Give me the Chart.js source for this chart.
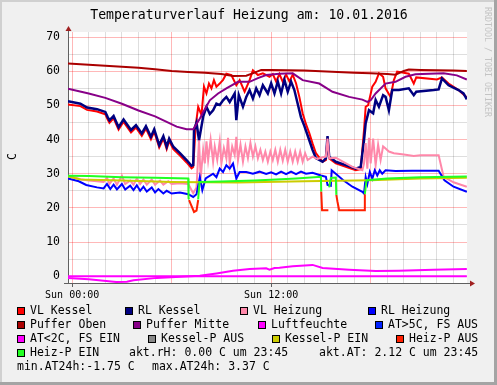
<!DOCTYPE html>
<html>
<head>
<meta charset="utf-8">
<script src="https://cdn.jsdelivr.net/npm/chart.js@4/dist/chart.umd.min.js"></script>
<style>
html, body { margin: 0; padding: 0; background: #f0f0f0; }
#wrap { width: 497px; height: 385px; }
</style>
</head>
<body>
<div id="wrap"><canvas id="chart" width="497" height="385"></canvas></div>
<script>
// [hours since Sun 00:00, temperature in C]
const vlKessel = [[-0.25,50.3],[0.5,49.8],[0.9,48.7],[1.5,48.2],[2.0,47.4],[2.15,45.8],[2.25,44.9],[2.5,46.2],[2.8,42.9],[3.1,45.2],[3.55,42.1],[3.85,43.5],[4.2,41.1],[4.45,43.2],[4.75,40.1],[4.95,42.3],[5.25,37.7],[5.5,40.3],[5.7,37.2],[5.85,39.6],[6.1,37.2],[6.5,35.3],[6.9,33.3],[7.2,31.6],[7.3,32.0],[7.45,44],[7.6,49.6],[7.8,47.2],[7.95,55.5],[8.1,53.5],[8.25,56.4],[8.4,55],[8.55,57.4],[8.7,55.5],[8.9,56.4],[9.1,57.5],[9.3,59.3],[9.6,58.9],[9.9,55.9],[10.1,57.4],[10.4,54.0],[10.7,57.4],[10.9,60.3],[11.2,58.9],[11.5,59.4],[11.9,58.4],[12.1,59.2],[12.3,57],[12.5,59.2],[12.7,56.9],[12.9,59],[13.1,57],[13.3,59],[13.5,56.5],[13.7,52.5],[13.9,47.7],[14.1,44.5],[14.3,41.9],[14.5,38.8],[14.7,36.0],[15.1,33.5],[15.3,34.0],[15.4,40.5],[15.5,34.5],[15.9,33.0],[16.5,32.0],[17.1,31.0],[17.4,31.3],[17.6,42.8],[17.7,49.6],[17.85,50.1],[18.1,55.5],[18.3,56.9],[18.5,59.4],[18.75,58.4],[18.9,55.0],[19.2,52.5],[19.4,57.4],[19.6,59.9],[20.3,59.3],[20.6,56.4],[20.75,58.2],[22.0,57.6],[22.3,58.2],[22.7,56.4],[23.3,54.5],[23.8,52.3]];
const rlKessel = [[-0.25,51.2],[0.5,50.5],[0.9,49.4],[1.5,48.9],[2.0,48.1],[2.15,46.5],[2.25,45.6],[2.5,46.9],[2.8,43.6],[3.1,45.9],[3.55,42.8],[3.85,44.2],[4.2,41.8],[4.45,43.9],[4.75,40.8],[4.95,43.0],[5.25,38.4],[5.5,41.0],[5.7,37.9],[5.85,40.3],[6.1,37.9],[6.5,36.0],[6.9,34.0],[7.2,32.3],[7.3,32.5],[7.35,42.8],[7.5,45.0],[7.65,39.8],[7.9,46.7],[8.1,49.6],[8.3,47.5],[8.5,48.6],[8.7,50.5],[8.9,50.1],[9.1,51.5],[9.3,52.5],[9.5,51.0],[9.8,53.5],[9.9,45.7],[10.05,53.0],[10.3,49.6],[10.5,52.5],[10.7,54.5],[10.9,52],[11.1,55.0],[11.3,53],[11.5,55.9],[11.8,53.5],[12.0,56.5],[12.2,53.5],[12.4,57],[12.6,53.5],[12.8,57.5],[13.0,54],[13.2,57],[13.4,54.5],[13.6,50.5],[13.8,46.5],[14.0,44.0],[14.3,39.8],[14.5,36.9],[14.7,34.6],[15.1,33.5],[15.3,34.5],[15.4,41.0],[15.5,35.0],[15.9,33.5],[16.5,32.5],[17.1,31.5],[17.4,32.0],[17.6,39.8],[17.7,44.8],[17.9,48.6],[18.15,47.7],[18.3,51.6],[18.5,49.6],[18.75,53.0],[18.9,52.5],[19.1,48.6],[19.3,54.5],[19.7,54.5],[20.3,55.0],[20.6,53.0],[20.75,54.0],[21.8,54.5],[22.1,54.7],[22.3,57.9],[22.7,55.9],[23.3,54.5],[23.6,53.5],[23.8,51.8]];
const vlHeizung = [[-0.25,29.4],[0.5,28.4],[1.0,28.0],[1.5,27.8],[1.9,27.6],[2.1,28.8],[2.25,27.0],[2.5,28.6],[2.7,26.8],[3.0,29.4],[3.2,27.0],[3.5,28.0],[3.7,26.8],[3.9,28.6],[4.1,27.0],[4.3,28.3],[4.5,26.8],[4.8,28.3],[5.0,26.8],[5.3,28.0],[5.5,26.8],[5.8,27.8],[6.0,27.0],[6.5,27.2],[7.0,27.0],[7.3,24.3],[7.5,26],[7.65,39.8],[7.75,28.6],[7.9,37],[8.0,33],[8.1,39.5],[8.2,34],[8.35,40],[8.5,33.5],[8.6,38],[8.75,34],[8.9,39.5],[9.0,33],[9.15,37.5],[9.3,34.5],[9.4,40.5],[9.5,33],[9.65,38],[9.8,35.5],[9.9,40.8],[10.0,34],[10.15,38.5],[10.3,33.5],[10.45,38],[10.6,34.5],[10.75,39],[10.9,35],[11.05,38],[11.2,34.5],[11.35,37],[11.5,34],[11.65,36.5],[11.8,33.5],[11.95,36.5],[12.1,34],[12.25,37],[12.4,33.5],[12.55,37],[12.7,33.8],[12.85,37],[13.0,33.5],[13.15,36.5],[13.3,33.5],[13.45,36.5],[13.6,33.5],[13.75,36.5],[13.9,33.5],[14.05,36],[14.2,34],[14.5,35],[14.8,34.3],[15.1,34.8],[15.3,35],[15.4,40.3],[15.5,34.5],[15.9,34.7],[16.35,33.5],[16.9,32.0],[17.5,31.0],[17.6,33],[17.7,39.0],[17.8,31.5],[17.9,40.5],[18.0,33],[18.15,40.3],[18.3,32.5],[18.45,38.5],[18.6,34],[18.75,38],[18.9,37.4],[19.1,36.5],[19.4,36.0],[20.0,35.6],[20.6,35.2],[21.0,35.4],[22.1,35.4],[22.4,29.1],[23.0,27.5],[23.8,26.2]];
const rlHeizung = [[-0.25,28.6],[0.4,27.8],[0.85,26.7],[1.5,26.0],[1.9,25.7],[2.1,27.0],[2.3,25.5],[2.5,26.8],[2.7,25.4],[3.0,27.0],[3.2,25.4],[3.5,26.5],[3.7,25.2],[3.9,26.6],[4.1,25.0],[4.3,26.2],[4.5,24.8],[4.8,26.0],[5.0,24.5],[5.2,25.5],[5.5,24.2],[5.7,25.0],[6.0,24.2],[6.5,24.5],[7.0,24.0],[7.3,23.2],[7.5,24],[7.7,29.0],[7.85,25.2],[8.05,28.6],[8.5,30.0],[8.7,29],[8.9,31.5],[9.1,30.5],[9.3,32.5],[9.5,31.5],[9.7,33.0],[9.9,28.6],[10.1,30.5],[10.5,30.5],[10.9,30.0],[11.3,30.6],[11.7,29.9],[12.0,30.4],[12.3,29.8],[12.6,30.6],[12.9,29.9],[13.2,30.6],[13.5,29.9],[13.8,30.6],[14.1,30.0],[14.5,30.3],[15.0,29.5],[15.3,29.1],[15.4,26.7],[15.6,26.5],[15.65,31.0],[16.35,28.1],[16.9,26.2],[17.5,24.7],[17.6,24.2],[17.7,29.0],[17.8,27],[17.95,30.5],[18.1,28.5],[18.25,31],[18.4,29.5],[18.55,31],[18.7,30],[18.9,31.0],[19.5,30.8],[20.5,30.9],[21.5,30.9],[22.1,30.9],[22.45,28.1],[23.0,26.2],[23.8,24.7]];
const pufferOben = [[-0.25,62.3],[1,61.9],[2,61.6],[3,61.3],[4,61.0],[5,60.6],[6,60.1],[7,59.8],[8,59.6],[9,59.2],[9.7,58.6],[10.5,58.7],[11.0,59.6],[11.4,60.4],[12,60.4],[13,60.3],[14,60.2],[15,60.0],[16,59.8],[17,59.6],[18,59.4],[19,59.2],[19.5,59.0],[20.0,60.1],[20.3,60.5],[21,60.4],[22,60.3],[23,60.2],[23.8,60.1]];
const pufferMitte = [[-0.25,54.9],[1,53.5],[2,52.2],[3,50.5],[4,48.5],[5,46.8],[5.7,45.2],[6.3,43.8],[6.9,43.0],[7.3,43.0],[7.65,45.7],[7.9,48],[8.3,51.5],[8.8,53.5],[9.3,55.0],[10.0,56.9],[10.7,56.9],[11.2,58],[11.7,58.9],[12.5,59.3],[13.3,59.4],[13.9,57.4],[14.9,56.4],[15.7,54.0],[16.7,52.5],[17.5,51.7],[17.8,51.0],[18.0,51.5],[18.3,53.5],[18.9,56.4],[19.5,56.9],[20.1,58.4],[20.7,59.1],[22.4,59.4],[23.2,58.8],[23.8,57.6]];
const luftfeuchte = [[-0.25,0],[23.8,0]];
const atWarm = [];
const atKalt = [[-0.25,-0.5],[1,-0.9],[2.65,-1.7],[3.3,-1.6],[3.7,-1.2],[5.1,-0.5],[7.7,0.1],[8.7,0.8],[9.7,1.6],[10.7,2.1],[11.7,2.3],[11.9,1.9],[12.2,2.4],[12.5,2.5],[13.3,2.9],[14.5,3.3],[15.1,2.4],[16.7,1.9],[18.3,1.5],[19.7,1.6],[21.8,1.9],[23.8,2.1]];
const kesselPAus = [];
const kesselPEin = [[-0.25,29.2],[0.5,28.3],[3,28.0],[6,27.6],[10,27.4],[14,27.8],[18,28.1],[21,28.6],[23.8,28.8]];
const heizPAus = [[7.05,22.3],[7.35,18.8],[7.5,19.2],[7.6,22.3],[7.62,null],[15.02,24.8],[15.07,19.3],[15.45,19.3],[15.5,null],[15.93,23.8],[16.0,21.8],[16.1,19.3],[17.6,19.3],[17.65,24.0]];
const heizPEin = [[-0.25,29.4],[1,29.3],[3,29.0],[5,28.8],[7.0,28.6],[7.02,22.8],[7.05,22.5],[7.08,null],[7.6,22.5],[7.68,27.6],[9,27.7],[11,28.0],[12,28.2],[13.5,28.6],[15.0,29.1],[15.02,24.8],[15.05,null],[15.5,26.0],[15.6,28.8],[15.9,28.9],[15.93,23.8],[15.96,null],[17.65,24.0],[17.75,28.1],[19,28.6],[21,29.0],[23.8,29.2]];

const seriesNames = ['VL Kessel', 'RL Kessel', 'VL Heizung', 'RL Heizung', 'Puffer Oben', 'Puffer Mitte', 'Luftfeuchte', 'AT>5C, FS AUS', 'AT<2C, FS EIN', 'Kessel-P AUS', 'Kessel-P EIN', 'Heiz-P AUS', 'Heiz-P EIN'];
const seriesColors = ['#ff0000', '#000080', '#ff88aa', '#0000ff', '#aa0000', '#880088', '#ff00ff', '#0022ff', '#ff00ff', '#888888', '#cccc00', '#ff2000', '#22ff22'];
const xTickLabels = { 0: 'Sun 00:00', 12: 'Sun 12:00' };
const legendNotes = ['akt.rH: 0.00 C um 23:45', 'akt.AT: 2.12 C um 23:45', 'min.AT24h:-1.75 C', 'max.AT24h: 3.37 C'];

const allData = [vlKessel, rlKessel, vlHeizung, rlHeizung, pufferOben, pufferMitte, luftfeuchte, atWarm, atKalt, kesselPAus, kesselPEin, heizPAus, heizPEin];

// legend layout like rrdtool's
const legendSlots = [[17,311],[125,311],[240,311],[368,311],[17,325],[133,325],[258,325],[375,325],[17,339],[148,339],[272,339],[396,339],[17,353]];
const noteSlots = [[129,353],[319,353],[17,367],[152,367]];

const MONO = '"DejaVu Sans Mono", monospace';
const majorGrid = 'rgba(255,0,0,0.28)';
const minorGrid = 'rgba(0,0,0,0.13)';
const axisColor = '#606060';
const arrowColor = '#a02020';

const rrdLook = {
    id: 'rrdLook',
    beforeDraw(chart) {
        const ctx = chart.ctx;
        const a = chart.chartArea;
        ctx.save();
        ctx.fillStyle = '#f0f0f0';
        ctx.fillRect(0, 0, chart.width, chart.height);
        ctx.fillStyle = '#d0d0d0';
        ctx.fillRect(0, 0, chart.width, 2);
        ctx.fillRect(0, 0, 2, chart.height);
        ctx.fillStyle = '#a4a4a4';
        ctx.fillRect(chart.width - 3, 0, 3, chart.height);
        ctx.fillRect(0, chart.height - 3, chart.width, 3);
        ctx.fillStyle = '#ffffff';
        ctx.fillRect(a.left, a.top, a.right - a.left, a.bottom - a.top);
        ctx.restore();
    },
    afterDraw(chart) {
        const ctx = chart.ctx;
        const a = chart.chartArea;
        ctx.save();

        // axis extensions and arrows
        ctx.strokeStyle = axisColor;
        ctx.lineWidth = 1;
        ctx.beginPath();
        ctx.moveTo(a.left + 0.5, a.top);
        ctx.lineTo(a.left + 0.5, a.top - 3);
        ctx.moveTo(a.left - 4, a.bottom + 0.5);
        ctx.lineTo(a.left, a.bottom + 0.5);
        ctx.moveTo(a.right, a.bottom + 0.5);
        ctx.lineTo(a.right + 3, a.bottom + 0.5);
        ctx.stroke();
        ctx.fillStyle = arrowColor;
        ctx.beginPath();
        ctx.moveTo(a.left + 0.5, a.top - 6);
        ctx.lineTo(a.left - 2.5, a.top - 1);
        ctx.lineTo(a.left + 3.5, a.top - 1);
        ctx.closePath();
        ctx.fill();
        ctx.beginPath();
        ctx.moveTo(a.right + 8, a.bottom + 0.5);
        ctx.lineTo(a.right + 3, a.bottom - 2.5);
        ctx.lineTo(a.right + 3, a.bottom + 3.5);
        ctx.closePath();
        ctx.fill();

        // title
        ctx.fillStyle = '#000';
        ctx.textAlign = 'center';
        ctx.textBaseline = 'middle';
        ctx.font = '13.2px ' + MONO;
        ctx.fillText('Temperaturverlauf Heizung am: 10.01.2016', 249, 16);

        // unit label
        ctx.save();
        ctx.translate(13.5, 156.5);
        ctx.rotate(-Math.PI / 2);
        ctx.font = '11.5px ' + MONO;
        ctx.fillText('C', 0, 0);
        ctx.restore();

        // watermark
        ctx.save();
        ctx.translate(487, 62);
        ctx.rotate(Math.PI / 2);
        ctx.fillStyle = '#c4c4c4';
        ctx.font = '8.3px ' + MONO;
        ctx.fillText('RRDTOOL / TOBI OETIKER', 0, 0);
        ctx.restore();

        // legend
        ctx.textAlign = 'left';
        ctx.font = '11.5px ' + MONO;
        seriesNames.forEach((name, i) => {
            const [x, y] = legendSlots[i];
            ctx.fillStyle = seriesColors[i];
            ctx.fillRect(x, y - 4, 8, 8);
            ctx.strokeStyle = '#000';
            ctx.strokeRect(x + 0.5, y - 3.5, 7, 7);
            ctx.fillStyle = '#000';
            ctx.fillText(name, x + 13, y + 0.5);
        });
        legendNotes.forEach((txt, i) => {
            const [x, y] = noteSlots[i];
            ctx.fillText(txt, x, y + 0.5);
        });
        ctx.restore();
    }
};

const datasets = seriesNames.map((name, i) => ({
    label: name,
    data: allData[i],
    borderColor: seriesColors[i],
    backgroundColor: seriesColors[i],
    borderWidth: i === 1 ? 2.5 : 2,
    pointRadius: 0,
    fill: false,
    tension: 0,
    order: seriesNames.length - i
}));

new Chart(document.getElementById('chart'), {
    type: 'line',
    data: { datasets: datasets },
    options: {
        responsive: false,
        animation: false,
        devicePixelRatio: 1,
        layout: { padding: { top: 32, left: 0, right: 30, bottom: 82 } },
        plugins: {
            legend: { display: false },
            title: { display: false },
            tooltip: { enabled: false }
        },
        scales: {
            x: {
                type: 'linear',
                min: -0.25,
                max: 23.81,
                afterFit: s => { s.height = 20; },
                border: { color: axisColor, width: 1 },
                grid: {
                    color: c => (c.tick && c.tick.value % 6 === 0) ? majorGrid : minorGrid,
                    tickLength: 4,
                    tickColor: c => (c.tick && xTickLabels[c.tick.value]) ? axisColor : 'rgba(0,0,0,0)'
                },
                ticks: {
                    stepSize: 1,
                    includeBounds: false,
                    autoSkip: false,
                    maxRotation: 0,
                    padding: 2,
                    color: '#000',
                    font: { family: MONO, size: 10 },
                    callback: v => xTickLabels[v] || ''
                }
            },
            y: {
                min: -2,
                max: 71.5,
                afterFit: s => { s.width = 68; },
                border: { color: axisColor, width: 1 },
                grid: {
                    color: c => (c.tick && c.tick.value % 10 === 0) ? majorGrid : minorGrid,
                    drawTicks: false
                },
                ticks: {
                    stepSize: 5,
                    includeBounds: false,
                    padding: 8,
                    color: '#000',
                    font: { family: MONO, size: 11.5 },
                    callback: v => (v % 10 === 0 ? v : '')
                }
            }
        }
    },
    plugins: [rrdLook]
});
</script>
</body>
</html>
